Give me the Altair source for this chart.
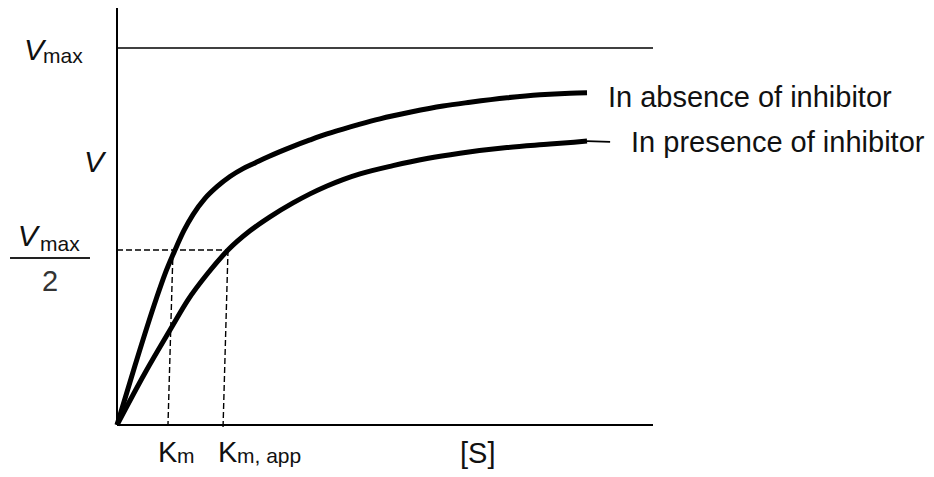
import altair as alt
import pandas as pd

# ---- data ----
S_ABSENCE = [0, 0.336, 0.728, 0.896, 1.082, 1.250, 1.418, 1.642, 1.866, 2.108, 2.351, 2.575, 2.799,
             3.041, 3.284, 3.601, 3.918, 4.216, 4.534, 4.907, 5.485, 6.082, 6.586, 7.276, 7.892, 8.451, 8.769]
V_ABSENCE = [0, 0.158, 0.333, 0.401, 0.464, 0.516, 0.558, 0.601, 0.632, 0.659, 0.680, 0.695, 0.710,
             0.725, 0.739, 0.756, 0.772, 0.785, 0.798, 0.812, 0.830, 0.846, 0.856, 0.868, 0.876, 0.880, 0.881]

S_PRESENCE = [0, 0.522, 0.989, 1.325, 1.698, 2.071, 2.481, 2.854, 3.284, 3.601, 3.918, 4.216, 4.534,
              5.149, 5.784, 6.399, 7.276, 8.078, 8.769]
V_PRESENCE = [0, 0.138, 0.252, 0.332, 0.403, 0.464, 0.515, 0.552, 0.589, 0.613, 0.634, 0.651, 0.666,
              0.688, 0.707, 0.721, 0.736, 0.745, 0.753]

S_MAX = 10.0
V_TOP = 1.106
VMAX = 1.0
HALF_LEVEL = 0.464
KM_TOP, KM_BOTTOM = 1.045, 0.951
KMAPP_TOP, KMAPP_BOTTOM = 2.071, 1.978

XS = alt.Scale(domain=[0, S_MAX], nice=False, zero=False)
YS = alt.Scale(domain=[0, V_TOP], nice=False, zero=False)
FONT = "Liberation Sans"

X = lambda f="S": alt.X(f"{f}:Q", scale=XS, axis=None)
Y = lambda f="V": alt.Y(f"{f}:Q", scale=YS, axis=None)

# ---- curves ----
curve_abs = pd.DataFrame({"S": S_ABSENCE, "V": V_ABSENCE, "i": range(len(S_ABSENCE))})
curve_pre = pd.DataFrame({"S": S_PRESENCE, "V": V_PRESENCE, "i": range(len(S_PRESENCE))})

line_style = dict(color="black", strokeWidth=5, interpolate="monotone", strokeCap="butt", strokeJoin="round")
abs_line = alt.Chart(curve_abs).mark_line(**line_style).encode(x=X(), y=Y(), order="i:Q")
pre_line = alt.Chart(curve_pre).mark_line(**line_style).encode(x=X(), y=Y(), order="i:Q")

# thin leader from presence curve to its label
tail = pd.DataFrame({"S": [S_PRESENCE[-1]], "V": [V_PRESENCE[-1]], "S2": [9.2], "V2": [0.751]})
tail_rule = alt.Chart(tail).mark_rule(color="black", strokeWidth=1.6).encode(
    x=X(), y=Y(), x2="S2:Q", y2="V2:Q")

# ---- axes and Vmax line ----
solid = pd.DataFrame({
    "S": [0, 0, 0],
    "V": [0, 0, VMAX],
    "S2": [0, S_MAX, S_MAX],
    "V2": [V_TOP, 0, VMAX],
    "w": [2.0, 2.0, 1.6],
})
solid_rules = alt.Chart(solid).mark_rule(color="black").encode(
    x=X(), y=Y(), x2="S2:Q", y2="V2:Q",
    strokeWidth=alt.StrokeWidth("w:Q", scale=None, legend=None))

# ---- dashed guides ----
dashed = pd.DataFrame({
    "S": [0, KM_TOP, KMAPP_TOP],
    "V": [HALF_LEVEL, HALF_LEVEL, HALF_LEVEL],
    "S2": [KMAPP_TOP, KM_BOTTOM, KMAPP_BOTTOM],
    "V2": [HALF_LEVEL, 0, -0.008],
})
dashed_rules = alt.Chart(dashed).mark_rule(color="black", strokeWidth=1.4, strokeDash=[6, 3]).encode(
    x=X(), y=Y(), x2="S2:Q", y2="V2:Q")

# fraction bar of Vmax/2
frac = pd.DataFrame({"S": [-1.996], "S2": [-0.504], "V": [0.443]})
frac_rule = alt.Chart(frac).mark_rule(color="#222222", strokeWidth=2).encode(
    x=X(), x2="S2:Q", y=Y())

# ---- texts ----
italic_big = pd.DataFrame({
    "S": [-1.735, -0.616, -1.85],
    "V": [0.968, 0.671, 0.475],
    "t": ["V", "V", "V"],
})
normal_big = pd.DataFrame({
    "S": [0.765, 1.884, 6.40, 9.16, 9.59],
    "V": [-0.098, -0.098, -0.101, 0.843, 0.724],
    "t": ["K", "K", "[S]", "In absence of inhibitor", "In presence of inhibitor"],
})
subs = pd.DataFrame({
    "S": [-1.381, -1.437, 1.12, 2.239],
    "V": [0.960, 0.462, -0.101, -0.101],
    "t": ["max", "max", "m", "m, app"],
})
two = pd.DataFrame({"S": [-1.25], "V": [0.355], "t": ["2"]})


def text_layer(df, size, style="normal", align="left", color="#111111"):
    return alt.Chart(df).mark_text(align=align, baseline="alphabetic", fontSize=size, font=FONT,
                                   fontStyle=style, color=color).encode(x=X(), y=Y(), text="t:N")


texts = [
    text_layer(italic_big, 30, "italic"),
    text_layer(normal_big, 29),
    text_layer(subs, 21),
    text_layer(two, 29, align="center", color="#333333"),
]

chart = alt.layer(
    solid_rules, dashed_rules, frac_rule, abs_line, pre_line, tail_rule, *texts
).properties(
    width=536, height=417,
    padding={"left": 109, "top": 0, "right": 273, "bottom": 44},
    autosize=alt.AutoSizeParams(type="none"),
).configure_view(stroke=None)

chart.save("out.html", embed_options={"renderer": "svg", "actions": False})
